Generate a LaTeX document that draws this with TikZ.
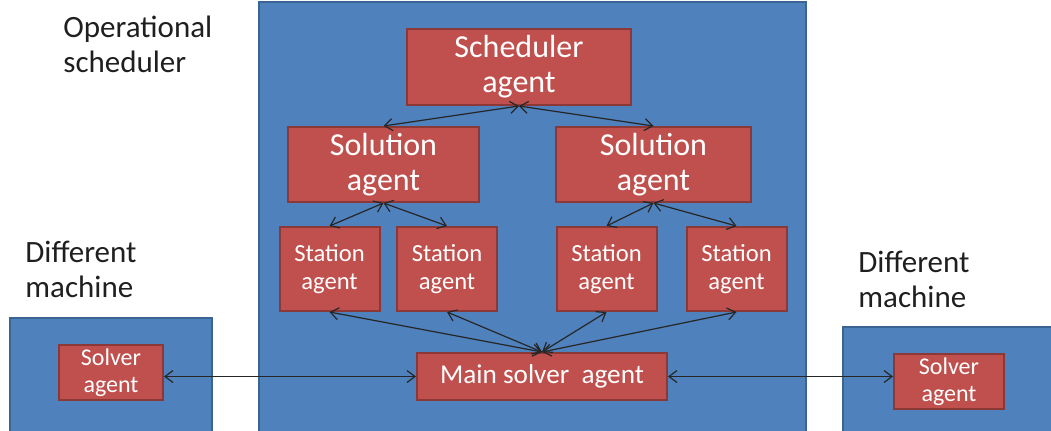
\documentclass[tikz,border=0pt]{standalone}
\usepackage{fontspec}
\setmainfont{Carlito}
\usepackage{tikz}
\usetikzlibrary{arrows.meta, positioning}
\usepackage{xcolor}
\definecolor{hostblue}{HTML}{4F81BD}
\definecolor{hostedge}{HTML}{3A6494}
\definecolor{agentred}{HTML}{C0504D}
\definecolor{agentedge}{HTML}{8C3836}
\tikzset{
  host/.style   ={draw=hostedge, fill=hostblue, line width=1.2pt},
  agent/.style  ={draw=agentedge, fill=agentred, line width=1pt,
                  text=white, align=center, inner sep=0pt},
  bigag/.style  ={agent, font=\fontsize{16}{17.5}\selectfont},
  stag/.style   ={agent, font=\fontsize{12.3}{14}\selectfont,
                  minimum width=50pt, minimum height=42pt},
  slvag/.style  ={agent, font=\fontsize{12}{13.5}\selectfont,
                  minimum width=52pt, minimum height=27.5pt},
  hostlbl/.style={font=\fontsize{15.5}{17.5}\selectfont, text=black!88,
                  align=left, anchor=west, inner sep=0pt},
  link/.style   ={{Straight Barb[length=4pt,width=6pt]}-{Straight Barb[length=4pt,width=6pt]},
                  line width=0.6pt, black!85},
}

\begin{document}
\begin{tikzpicture}[x=0.5pt, y=-0.5pt]
  \useasboundingbox (0,0) rectangle (1051,430);
  \clip (0,0) rectangle (1051,430);
  % machines (bottom edges run off the page)
  \draw[host] (259,2) rectangle (806,440);
  \draw[host] (10,318) rectangle (212,440);
  \draw[host] (843,327) rectangle (1060,440);
  \node[hostlbl] (opl) at (63,44.5) {Operational\\scheduler};
  \node[hostlbl] (dml) at (25,269.5) {Different\\machine};
  \node[hostlbl] (dmr) at (858,279.5) {Different\\machine};
  % operational scheduler agents
  \node[bigag, minimum width=112pt, minimum height=38pt] (sched) at (519,67)
    {Scheduler\\agent};
  \node[bigag, minimum width=95.5pt, minimum height=37.5pt] (solL) at (383.5,164.5)
    {Solution\\agent};
  \node[bigag, minimum width=97.5pt, minimum height=37.5pt] (solR) at (653.5,164.5)
    {Solution\\agent};
  \node[stag] (st1) at (329.5,269) {Station\\agent};
  \node[stag] (st2) at (447,269) {Station\\agent};
  \node[stag] (st3) at (606.5,269) {Station\\agent};
  \node[stag] (st4) at (736.5,269) {Station\\agent};
  \node[agent, font=\fontsize{13.6}{15}\selectfont, minimum width=125pt,
        minimum height=23.5pt] (mainsv) at (542,376.5) {Main solver\ \ agent};
  % solvers on the other machines
  \node[slvag] (svL) at (111,372.5) {Solver\\agent};
  \node[slvag, minimum width=55pt] (svR) at (949,381.5) {Solver\\agent};
  % links
  \draw[link] (sched.south) -- (solL.north);
  \draw[link] (sched.south) -- (solR.north);
  \foreach \s/\t in {solL/st1, solL/st2, solR/st3, solR/st4}
    \draw[link] (\s.south) -- (\t.north);
  \foreach \t in {st1, st2, st3, st4}
    \draw[link] (mainsv.north) -- (\t.south);
  \draw[link] (mainsv.west) -- (mainsv.west -| svL.east);
  \draw[link] (mainsv.east) -- (mainsv.east -| svR.west);
\end{tikzpicture}
\end{document}
